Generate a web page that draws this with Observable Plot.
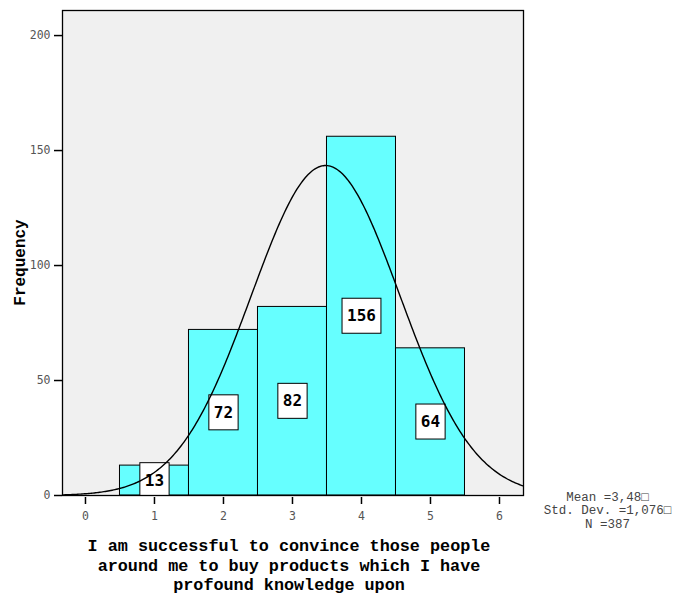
<!DOCTYPE html>
<html><head><meta charset="utf-8">
<script src="https://cdn.jsdelivr.net/npm/d3@7"></script>
<script src="https://cdn.jsdelivr.net/npm/@observablehq/plot@0.6"></script>
<style>body{margin:0;background:#fff}</style>
</head><body><div id="chart"></div>
<script>
const categories = [1, 2, 3, 4, 5];
const frequencies = [13, 72, 82, 156, 64];
const yTicks = [0, 50, 100, 150, 200];
const xTicks = [0, 1, 2, 3, 4, 5, 6];
const MEAN = 3.48, SD = 1.076, N = 387, BIN = 1;
const xLabel = "I am successful to convince those people\naround me to buy products which I have\nprofound knowledge upon";
const yLabel = "Frequency";
const statLines = ["Mean =3,48\u25A1", "Std. Dev. =1,076\u25A1", "N =387"];

const bars = categories.map((c, i) => ({x1: c - BIN / 2, x2: c + BIN / 2, y: frequencies[i], x: c, mid: frequencies[i] / 2, label: String(frequencies[i])}));
const xDomain = [-0.333, 6.348];
const curve = d3.range(xDomain[0], xDomain[1] + 0.01, 0.02).map(x => ({x, y: N * BIN / (SD * Math.sqrt(2 * Math.PI)) * Math.exp(-0.5 * ((x - MEAN) / SD) ** 2)}));

const tickFont = "DejaVu Sans Mono";
const labelFont = "Liberation Mono";
const blank = () => "";
const tag = (cls) => function (index, scales, values, dimensions, context, next) {
  const g = next(index, scales, values, dimensions, context);
  g.setAttribute("class", cls);
  return g;
};

const chart = Plot.plot({
  width: 693, height: 596,
  marginLeft: 62, marginRight: 170, marginTop: 10, marginBottom: 101,
  x: {domain: xDomain, label: null},
  y: {domain: [0, 210.9], label: null},
  style: {background: "white"},
  marks: [
    Plot.frame({fill: "#f0f0f0", stroke: "none"}),
    Plot.rectY(bars, {x1: "x1", x2: "x2", y: "y", fill: "#66ffff", stroke: "black", strokeWidth: 1}),
    Plot.text(bars, {x: "x", y: "mid", text: "label", fill: "black", fontWeight: "bold", fontSize: 16, fontFamily: tickFont, render: tag("vlabel")}),
    Plot.line(curve, {x: "x", y: "y", stroke: "black", strokeWidth: 1.4, clip: "frame"}),
    Plot.frame({stroke: "black", strokeWidth: 1.3}),
    Plot.axisY(yTicks, {anchor: "left", tickSize: 8, tickFormat: blank, label: null, color: "black", strokeWidth: 1.5}),
    Plot.axisY(yTicks, {anchor: "left", tickSize: 0, tickPadding: 12, label: null, color: "#555", fontSize: 11.5, fontFamily: tickFont}),
    Plot.axisX(xTicks, {anchor: "bottom", tickSize: 7, dy: 2, tickFormat: blank, label: null, color: "black", strokeWidth: 1.5}),
    Plot.axisX(xTicks, {anchor: "bottom", tickSize: 0, tickPadding: 16, label: null, color: "#555", fontSize: 11.5, fontFamily: tickFont}),
    Plot.text([xLabel], {frameAnchor: "bottom", dx: -4, dy: 69, lineAnchor: "middle", lineHeight: 1.16, fontSize: 16.8, fontWeight: "bold", fontFamily: labelFont, fill: "black"}),
    Plot.text([yLabel], {frameAnchor: "left", textAnchor: "middle", dx: -43, dy: 9.5, rotate: -90, fontSize: 16, fontWeight: "bold", fontFamily: labelFont, fill: "black"}),
    Plot.text([statLines.join("\n")], {frameAnchor: "bottom-right", dx: 84, dy: 14.5, lineAnchor: "middle", textAnchor: "middle", lineHeight: 1.08, fontSize: 12.5, fontFamily: labelFont, fill: "#444"})
  ]
});
document.getElementById("chart").append(chart);

// white boxes behind value labels
const frameBottom = 596 - 101;
d3.select(chart).selectAll("g.vlabel text").each(function () {
  const b = this.getBBox();
  const w = b.width + 10, h = 35;
  const cx = b.x + b.width / 2, cy = b.y + b.height / 2;
  const t = this.getAttribute("transform") || "";
  const m = /translate\(([-\d.e]+),\s*([-\d.e]+)\)/.exec(t);
  const ty = m ? +m[2] : 0;
  const top = cy - h / 2;
  const bottom = Math.min(cy + h / 2, frameBottom - ty);
  d3.select(this.parentNode).insert("rect", () => this)
    .attr("transform", t)
    .attr("x", cx - w / 2).attr("y", top).attr("width", w).attr("height", bottom - top)
    .attr("fill", "white").attr("stroke", "black").attr("stroke-width", 1);
});
</script>
</body></html>
